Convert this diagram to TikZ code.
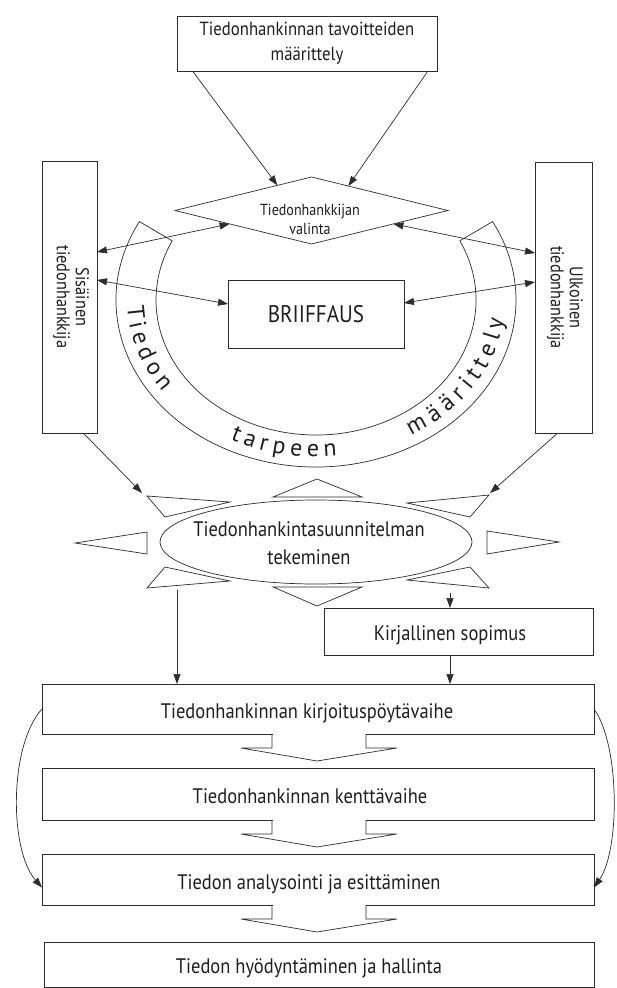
\documentclass[tikz,border=0pt]{standalone}
\usepackage{fontspec}
\setmainfont{PT Sans}[FakeStretch=0.88]
\newfontfamily\arcfam{PT Sans}
\usetikzlibrary{shapes.geometric, arrows.meta, calc}
\definecolor{lc}{RGB}{45,45,45}
\definecolor{tc}{RGB}{30,30,30}
\newcommand{\arcfnt}{\arcfam\fontsize{24}{24}\selectfont}
\begin{document}
\begin{tikzpicture}[x=1pt,y=1pt,
  color=lc, text=tc, line width=0.7pt,
  box/.style={draw=lc, rectangle, inner sep=0pt, outer sep=0pt},
  arr/.style={-{Triangle[length=10pt,width=7pt]}},
  darr/.style={{Triangle[length=10pt,width=7pt]}-{Triangle[length=10pt,width=7pt]}},
  fbig/.style={font=\fontsize{21}{28}\selectfont},
  btxt/.style={anchor=base, inner sep=0pt, font=\fontsize{21}{28}\selectfont},
  fmid/.style={font=\fontsize{19}{25}\selectfont},
  fside/.style={font=\fontsize{18.5}{19}\selectfont},
  fsmall/.style={font=\fontsize{16}{19}\selectfont},
  fbr/.style={font=\fontsize{24}{24}\selectfont},
  arcl/.style={anchor=base, inner sep=0pt, font=\arcfnt}
]
\useasboundingbox (0,0) rectangle (617,-988);
\fill[white] (0,0) rectangle (617,-988);

% top box
\node[box, minimum width=260pt, minimum height=55pt, align=center, fmid] (top) at (307,-43.5) {Tiedonhankinnan tavoitteiden\\määrittely};

% diamond
\node[draw=lc, diamond, shape aspect=4.07, minimum width=273pt, minimum height=67pt, inner sep=0pt, outer sep=0pt] (dia) at (311.5,-210.5) {};
\node[fsmall, align=center] (diat) at (310,-219) {Tiedonhankkijan\\valinta};

% side boxes
\node[box, minimum width=55pt, minimum height=272pt] (sis) at (69.5,-297) {};
\node[fside, rotate=-90, align=center] (sist) at (71,-297) {Sisäinen\\tiedonhankkija};
\node[box, minimum width=57pt, minimum height=271pt] (ulk) at (563.5,-297.5) {};
\node[fside, rotate=-90, align=center] (ulkt) at (565,-297.5) {Ulkoinen\\tiedonhankkija};

% band
\coordinate (ac) at (316,-300);
\draw ([shift={(152:200pt and 167pt)}]ac) arc[start angle=152, end angle=388, x radius=200pt, y radius=167pt]
  -- ([shift={(26:160pt and 135pt)}]ac) arc[start angle=26, end angle=-206, x radius=160pt, y radius=135pt] -- cycle;
\foreach \ch/\t [count=\k] in {T/184.9, i/189.9, e/194.9, d/201.1, o/207.4, n/213.5,
    t/244.3, a/248.9, r/253.5, p/258.4, e/263.8, e/269.1, n/274.4,
    m/303.3, ä/310.3, ä/316.0, r/321.3, i/325.7, t/330.0, t/334.9, e/340.5, l/345.8, y/350.9} {
  \node[arcl, rotate={atan2(157*cos(\t),-189*sin(\t))}] (arc\k) at ([shift={(\t:189pt and 157pt)}]ac) {\ch};
}

% briiffaus
\node[box, minimum width=176pt, minimum height=68pt, fbr] (br) at (316,-314) {BRIIFFAUS};

% arrows top
\draw[arr] ($(top.south west)!0.06!(top.south east)$) -- ($(dia.west)!0.75!(dia.north)$);
\draw[arr] ($(top.south west)!0.965!(top.south east)$) -- ($(dia.east)!0.73!(dia.north)$);
\draw[darr] ($(sis.north east)+(0,-91)$) -- ($(dia.west)!0.4!(dia.south)$);
\draw[darr] ($(sis.north east)+(0,-119)$) -- ($(br.west)+(0,10)$);
\draw[darr] ($(ulk.north west)+(0,-91)$) -- ($(dia.east)!0.4!(dia.south)$);
\draw[darr] ($(ulk.north west)+(0,-120)$) -- ($(br.east)+(0,11)$);

% sun
\node[draw=lc, ellipse, minimum width=312pt, minimum height=84pt, inner sep=0pt, outer sep=0pt] (ell) at (316,-542) {};
\node[fbig, align=center] (ellt) at (309,-543) {Tiedonhankintasuunnitelman\\tekeminen};
\draw (273,-497) -- (317,-479) -- (362,-497) -- cycle;
\draw (273,-587) -- (317,-606) -- (362,-587) -- cycle;
\draw (147,-532) -- (75,-543) -- (147,-554) -- cycle;
\draw (487,-531) -- (559,-542) -- (487,-554) -- cycle;
\draw (147,-496) -- (230,-502) -- (165,-517) -- cycle;
\draw (489,-495) -- (407,-503) -- (470,-517) -- cycle;
\draw (147,-588) -- (165,-567) -- (230,-581) -- cycle;
\draw (489,-588) -- (470,-567) -- (407,-580) -- cycle;
\coordinate (ularr) at (142,-493);
\coordinate (urarr) at (490,-493);
\draw[arr] ($(sis.south west)!0.75!(sis.south east)$) -- (ularr);
\draw[arr] ($(ulk.south west)!0.4!(ulk.south east)$) -- (urarr);

% lower boxes
\node[box, minimum width=269pt, minimum height=47pt] (kir) at (458.5,-631.5) {};
\node[btxt] (kirt) at (450,-640) {Kirjallinen sopimus};
\node[box, minimum width=552pt, minimum height=50pt] (b1) at (318,-709) {};
\node[btxt] (b1t) at (307,-718) {Tiedonhankinnan kirjoituspöytävaihe};
\node[box, minimum width=552pt, minimum height=52pt] (b2) at (318,-794) {};
\node[btxt] (b2t) at (310,-803) {Tiedonhankinnan kenttävaihe};
\node[box, minimum width=552pt, minimum height=51pt] (b3) at (318,-879.5) {};
\node[btxt] (b3t) at (309,-889) {Tiedon analysointi ja esittäminen};
\node[box, minimum width=550pt, minimum height=45pt] (b4) at (319,-964.5) {};
\node[btxt] (b4t) at (309,-973) {Tiedon hyödyntäminen ja hallinta};

\coordinate (vl) at (177,-590);
\draw[arr] (vl) -- (vl |- b1.north);
\coordinate (vr) at (450,-593);
\draw[arr] (vr) -- (vr |- kir.north);
\draw[arr] (vr |- kir.south) -- (vr |- b1.north);

% block arrows between boxes
\foreach \yb in {-734,-820,-905} {
  \fill[white] (272.5,\yb+0.8) rectangle (365.5,\yb-0.8);
  \draw[line join=miter] (272,\yb) -- (272,\yb-14) -- (241,\yb-14) -- (317,\yb-27) -- (397,\yb-14) -- (366,\yb-14) -- (366,\yb);
}

% curved arrows
\draw[arr] (b1.west) .. controls (9,-745) and (9,-850) .. ($(b3.west)+(0,-8)$);
\draw[arr] (b1.east) .. controls (620,-745) and (620,-850) .. ($(b3.east)+(0,-8)$);
\end{tikzpicture}
\end{document}
